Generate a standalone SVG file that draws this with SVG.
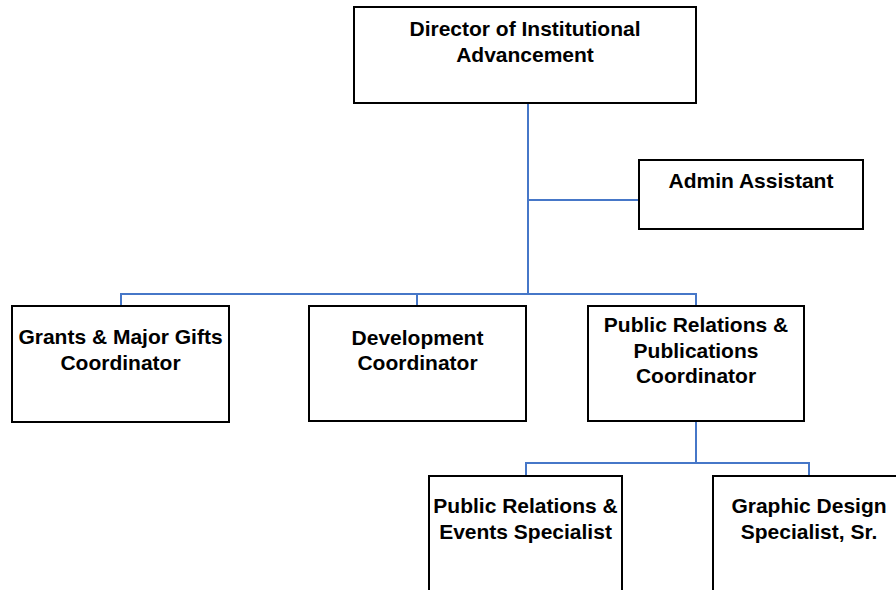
<svg xmlns="http://www.w3.org/2000/svg" width="896" height="590" viewBox="0 0 896 590">
<style>
.box{fill:#fff;stroke:#000;stroke-width:2}
.lbl{font-family:"Liberation Sans",Arial,sans-serif;font-weight:bold;font-size:21px;fill:#000;text-anchor:middle}
.con{fill:none;stroke:#4677C8;stroke-width:2}
</style>
<rect width="896" height="590" fill="#fff"/>
<g id="connectors">
<path class="con" d="M528,103 V294"/>
<path class="con" d="M528,200 H639"/>
<path class="con" d="M121,306 V294 H696 V306"/>
<path class="con" d="M417,294 V306"/>
<path class="con" d="M696,421 V463"/>
<path class="con" d="M526,476 V463 H809 V476"/>
</g>
<g id="director">
<rect class="box" x="354" y="7" width="342" height="96"/>
<text class="lbl" x="525" y="36">Director of Institutional</text>
<text class="lbl" x="525" y="62">Advancement</text>
</g>
<g id="admin">
<rect class="box" x="639" y="160" width="224" height="69"/>
<text class="lbl" x="751" y="188">Admin Assistant</text>
</g>
<g id="grants">
<rect class="box" x="12" y="306" width="217" height="116"/>
<text class="lbl" x="120.5" y="344">Grants &amp; Major Gifts</text>
<text class="lbl" x="120.5" y="370">Coordinator</text>
</g>
<g id="development">
<rect class="box" x="309" y="306" width="217" height="115"/>
<text class="lbl" x="417.5" y="345">Development</text>
<text class="lbl" x="417.5" y="370">Coordinator</text>
</g>
<g id="prp">
<rect class="box" x="588" y="306" width="216" height="115"/>
<text class="lbl" x="696" y="332">Public Relations &amp;</text>
<text class="lbl" x="696" y="358">Publications</text>
<text class="lbl" x="696" y="383">Coordinator</text>
</g>
<g id="pre">
<rect class="box" x="429" y="476" width="193" height="130"/>
<text class="lbl" x="525.5" y="513">Public Relations &amp;</text>
<text class="lbl" x="525.5" y="539">Events Specialist</text>
</g>
<g id="graphic">
<rect class="box" x="713" y="476" width="192" height="130"/>
<text class="lbl" x="809" y="513">Graphic Design</text>
<text class="lbl" x="809" y="539">Specialist, Sr.</text>
</g>
</svg>
